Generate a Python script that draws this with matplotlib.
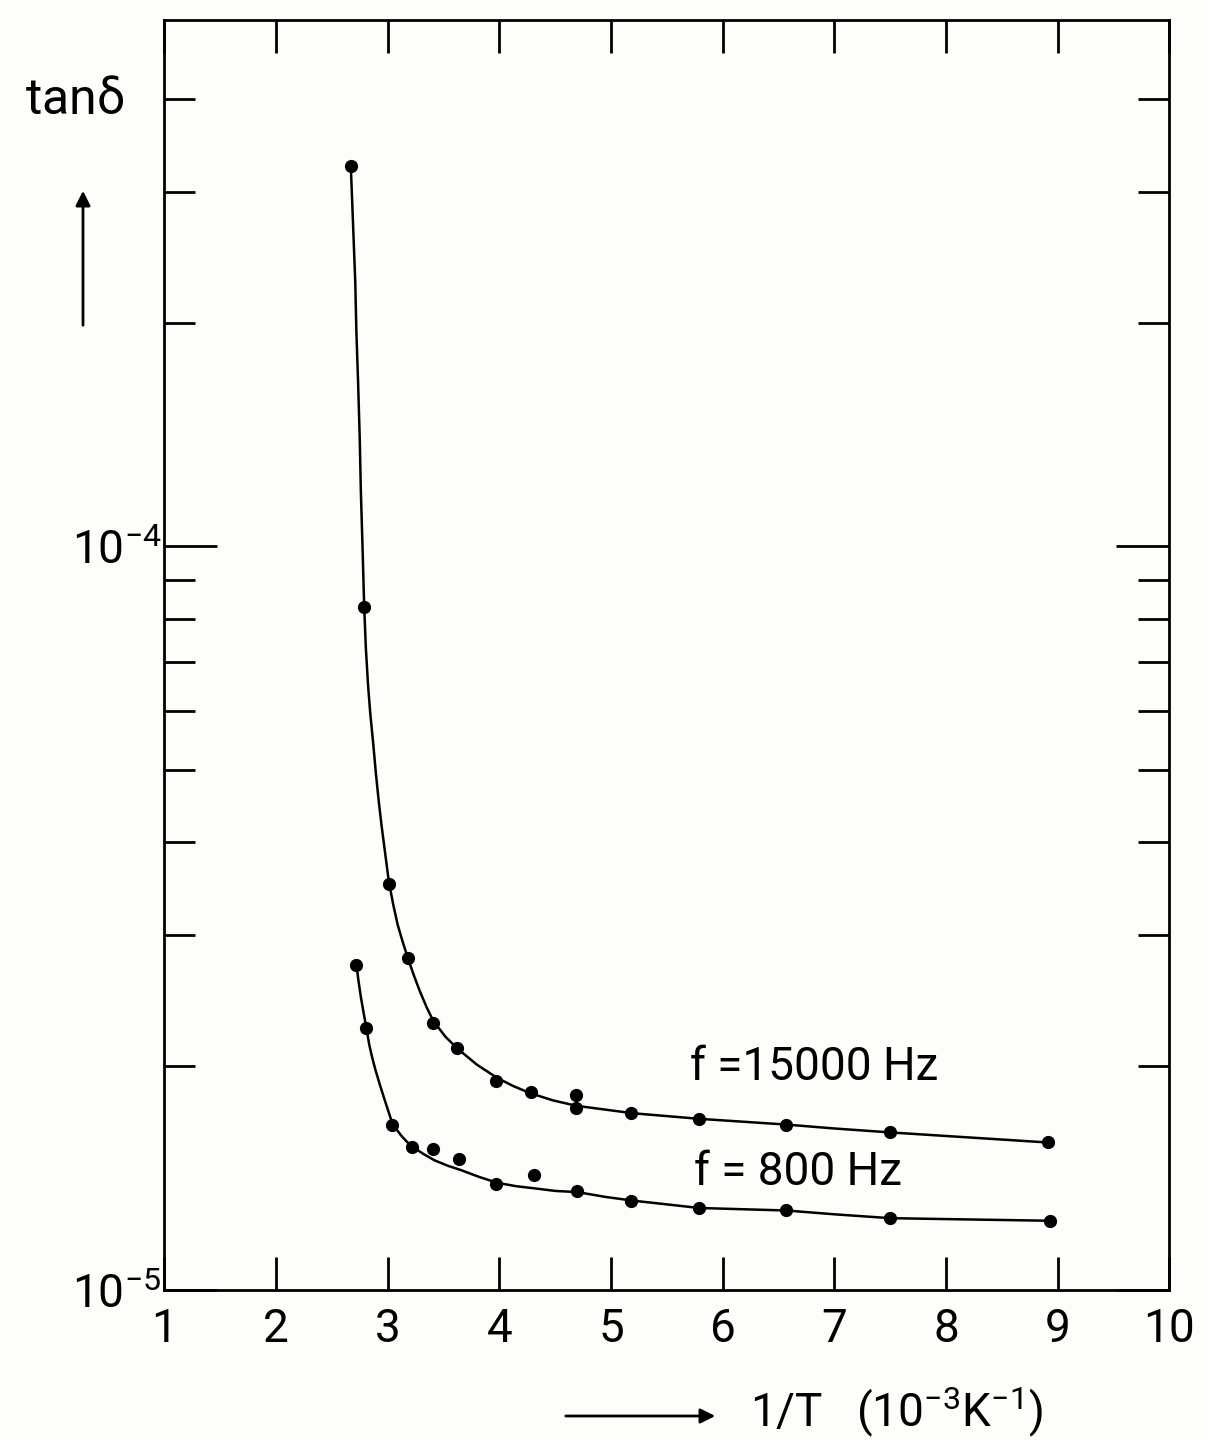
import matplotlib
matplotlib.use("Agg")
import matplotlib.pyplot as plt
from matplotlib.ticker import FixedLocator, NullFormatter

plt.rcParams["font.family"] = ["Roboto", "DejaVu Sans"]
plt.rcParams["mathtext.fontset"] = "custom"
plt.rcParams["mathtext.rm"] = "Roboto"
plt.rcParams["mathtext.it"] = "Roboto"
plt.rcParams["mathtext.default"] = "regular"

# measured points, f = 15000 Hz
x_hi = [2.67, 2.79, 3.01, 3.18, 3.41, 3.62, 3.97, 4.28, 4.69, 4.69, 5.18, 5.79, 6.57, 7.50, 8.91]
y_hi = [3.25e-4, 8.3e-5, 3.52e-5, 2.80e-5, 2.29e-5, 2.12e-5, 1.91e-5, 1.85e-5, 1.83e-5,
        1.76e-5, 1.73e-5, 1.70e-5, 1.67e-5, 1.63e-5, 1.58e-5]

# measured points, f = 800 Hz
x_lo = [2.72, 2.81, 3.04, 3.22, 3.41, 3.64, 3.97, 4.31, 4.70, 5.18, 5.79, 6.57, 7.50, 8.93]
y_lo = [2.74e-5, 2.25e-5, 1.67e-5, 1.56e-5, 1.55e-5, 1.50e-5, 1.39e-5, 1.43e-5, 1.36e-5,
        1.32e-5, 1.29e-5, 1.28e-5, 1.25e-5, 1.24e-5]

# hand-drawn smooth curves
cx_hi = [2.67, 2.69, 2.71, 2.72, 2.735, 2.75, 2.76, 2.775, 2.79, 2.805, 2.825, 2.845, 2.87,
         2.895, 2.92, 2.945, 2.97, 3.01, 3.05, 3.09, 3.135, 3.18, 3.235, 3.29, 3.35, 3.41,
         3.52, 3.63, 3.80, 3.98, 4.13, 4.28, 4.48, 4.69, 4.94, 5.19, 5.49, 5.79, 6.18, 6.57,
         7.0, 7.50, 8.2, 8.91]
cy_hi = [3.25e-4, 2.72e-4, 2.27e-4, 1.95e-4, 1.67e-4, 1.40e-4, 1.19e-4, 1.0e-4, 8.3e-5,
         7.3e-5, 6.5e-5, 5.95e-5, 5.45e-5, 4.95e-5, 4.55e-5, 4.22e-5, 3.95e-5, 3.55e-5,
         3.30e-5, 3.10e-5, 2.94e-5, 2.80e-5, 2.65e-5, 2.52e-5, 2.40e-5, 2.30e-5, 2.19e-5,
         2.11e-5, 2.01e-5, 1.93e-5, 1.88e-5, 1.84e-5, 1.80e-5, 1.77e-5, 1.75e-5, 1.73e-5,
         1.715e-5, 1.70e-5, 1.685e-5, 1.67e-5, 1.65e-5, 1.63e-5, 1.605e-5, 1.58e-5]

cx_lo = [2.72, 2.74, 2.76, 2.785, 2.81, 2.835, 2.86, 2.89, 2.93, 2.98, 3.04, 3.08, 3.12,
         3.17, 3.22, 3.32, 3.42, 3.54, 3.66, 3.82, 3.98, 4.15, 4.33, 4.50, 4.70, 4.95, 5.19,
         5.49, 5.79, 6.18, 6.57, 7.0, 7.50, 8.2, 8.93]
cy_lo = [2.74e-5, 2.60e-5, 2.48e-5, 2.36e-5, 2.25e-5, 2.14e-5, 2.06e-5, 1.98e-5, 1.89e-5,
         1.79e-5, 1.68e-5, 1.645e-5, 1.615e-5, 1.585e-5, 1.56e-5, 1.525e-5, 1.495e-5,
         1.47e-5, 1.45e-5, 1.42e-5, 1.395e-5, 1.38e-5, 1.37e-5, 1.36e-5, 1.355e-5, 1.335e-5,
         1.32e-5, 1.305e-5, 1.29e-5, 1.285e-5, 1.28e-5, 1.265e-5, 1.25e-5, 1.245e-5, 1.24e-5]

x_ticks = [1, 2, 3, 4, 5, 6, 7, 8, 9, 10]
y_major = [1e-5, 1e-4]
y_major_labels = [r"$10^{-5}$", r"$10^{-4}$"]
y_minor = [2e-5, 3e-5, 4e-5, 5e-5, 6e-5, 7e-5, 8e-5, 9e-5, 2e-4, 3e-4, 4e-4]

bg = "#fdfdfa"
fig = plt.figure(figsize=(12.08, 14.4), dpi=100, facecolor=bg)
ax = fig.add_axes([0.136, 0.104, 0.832, 0.882], facecolor=bg)

ax.plot(cx_hi, cy_hi, color="k", lw=1.8, solid_joinstyle="round")
ax.plot(cx_lo, cy_lo, color="k", lw=1.8, solid_joinstyle="round")
ax.plot(x_hi, y_hi, "o", color="k", ms=8.5)
ax.plot(x_lo, y_lo, "o", color="k", ms=8.5)

ax.set_yscale("log")
ax.set_xlim(1, 10)
ax.set_ylim(1e-5, 5.1e-4)

ax.set_xticks(x_ticks)
ax.set_xticklabels([str(t) for t in x_ticks])
ax.yaxis.set_major_locator(FixedLocator(y_major))
ax.set_yticklabels(y_major_labels)
ax.yaxis.set_minor_locator(FixedLocator(y_minor))
ax.yaxis.set_minor_formatter(NullFormatter())
ax.xaxis.set_minor_locator(FixedLocator([]))

ax.tick_params(axis="x", which="major", direction="in", length=24, width=2,
               top=True, labelsize=33, pad=12)
ax.tick_params(axis="y", which="major", direction="in", length=38, width=2,
               right=True, labelsize=33, pad=2)
ax.tick_params(axis="y", which="minor", direction="in", length=22, width=2, right=True)
for s in ax.spines.values():
    s.set_linewidth(2)

ax.text(5.71, 1.995e-5, "f =15000 Hz", fontsize=33, ha="left", va="center")
ax.text(5.74, 1.442e-5, "f = 800 Hz", fontsize=33, ha="left", va="center")

fig.text(25 / 1208, 1 - 100 / 1440, r"tan$\delta$", fontsize=36, ha="left", va="center")
ax.annotate("", xy=(83 / 1208, 1 - 188 / 1440), xytext=(83 / 1208, 1 - 328 / 1440),
            xycoords="figure fraction", textcoords="figure fraction",
            arrowprops=dict(arrowstyle="-|>", lw=2, color="k", mutation_scale=22))
ax.annotate("", xy=(718 / 1208, 1 - 1416 / 1440), xytext=(563 / 1208, 1 - 1416 / 1440),
            xycoords="figure fraction", textcoords="figure fraction",
            arrowprops=dict(arrowstyle="-|>", lw=2, color="k", mutation_scale=22))
fig.text(750 / 1208, 1 - 1412 / 1440, r"1/T   (10$^{-3}$K$^{-1}$)", fontsize=33,
         ha="left", va="center")

fig.savefig("out.png", dpi=100, facecolor=bg)
